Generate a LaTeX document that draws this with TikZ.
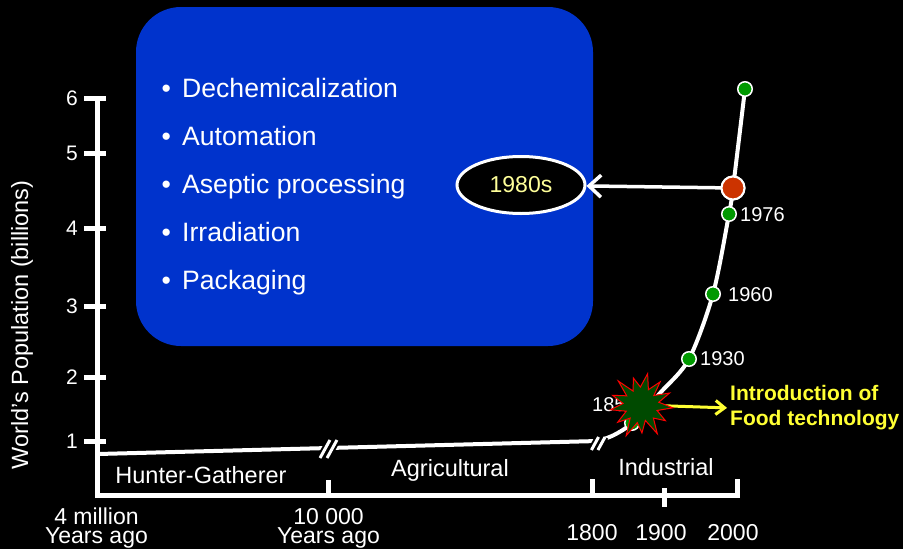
\documentclass[tikz,border=0pt]{standalone}
\usepackage{fontspec}
\setmainfont{Liberation Sans}
\usetikzlibrary{arrows.meta,shapes.geometric}
\definecolor{boxblue}{HTML}{0033CC}
\definecolor{dotgreen}{HTML}{009900}
\definecolor{dotred}{HTML}{CC3300}
\definecolor{stargreen}{HTML}{004A00}
\definecolor{paleyellow}{HTML}{FFFF99}
\definecolor{brightyellow}{HTML}{FFFF33}
\tikzset{
  axisline/.style={white, line width=5pt, line join=miter},
  tickmark/.style={white, line width=5pt},
  curveline/.style={white, line width=4pt},
  breakback/.style={black, line width=7pt},
  breakfront/.style={white, line width=3pt},
  bullettext/.style={text=white, font=\fontsize{26.6}{32}\selectfont, anchor=base west, inner sep=0pt},
  ticklabel/.style={text=white, font=\fontsize{21}{25}\selectfont, anchor=base east, inner sep=0pt},
  eralabel/.style={text=white, font=\fontsize{23.5}{28}\selectfont, anchor=base, inner sep=0pt},
  yearlabel/.style={text=white, font=\fontsize{23}{27}\selectfont, anchor=base, inner sep=0pt},
  twoline/.style={text=white, font={\fontsize{23}{19}\selectfont\lineskiplimit=-30pt\lineskip=0pt}, align=center, anchor=base, inner sep=0pt},
  dotlabel/.style={text=white, font=\fontsize{20}{24}\selectfont, anchor=west, inner sep=0pt},
  greendot/.style={circle, fill=dotgreen, draw=white, line width=1.5pt, minimum size=14.5pt, inner sep=0pt},
  reddot/.style={circle, fill=dotred, draw=white, line width=2pt, minimum size=23pt, inner sep=0pt},
  whitearrow/.style={white, line width=3.5pt, -{Straight Barb[length=12pt,width=22pt]}},
  yellowarrow/.style={brightyellow, line width=3pt, -{Straight Barb[length=9pt,width=14pt]}, shorten >=3pt},
  starshape/.style={fill=stargreen, draw=red, line width=1pt, line join=miter},
}
\begin{document}
\begin{tikzpicture}[x=1pt,y=-1pt]
\useasboundingbox (0,0) rectangle (903,549);
\fill[black] (0,0) rectangle (903,549);

% blue box with bullets
\node[fill=boxblue, rounded corners=45pt, minimum width=457pt, minimum height=339pt, inner sep=0pt] (box) at (364.5,176.5) {};
\foreach \t [count=\i] in {Dechemicalization, Automation, Aseptic processing, Irradiation, Packaging}
  \node[bullettext] (bl\i) at (161.5,{97+48*(\i-1)}) {\makebox[20.5pt][l]{•}\t};

% axes
\coordinate (ytop) at (97,96);
\coordinate (origin) at (97,495);
\coordinate (xend) at (740,495);
\draw[axisline] (ytop) -- (origin) -- (xend);
\foreach \v/\yy in {6/98,5/153,4/228,3/306,2/377,1/441}{
  \draw[tickmark] (84,\yy) -- (106,\yy);
  \node[ticklabel] (yl\v) at (78,\yy+7.5) {\v};
}
\draw[tickmark] (328,480) -- (328,497);
\draw[tickmark] (592,479) -- (592,497);
\draw[tickmark] (664,488) -- (664,507);
\draw[tickmark] (737,479) -- (737,497);

\node[rotate=90, text=white, font=\fontsize{23.5}{28}\selectfont, inner sep=0pt] (ylab) at (22,325) {World's Population (billions)};

\node[twoline] (x4) at (96.5,543) {4 million\\Years ago};
\node[twoline] (x10) at (328.5,543) {10 000\\Years ago};
\node[yearlabel] (x1800) at (592,540) {1800};
\node[yearlabel] (x1900) at (661,540) {1900};
\node[yearlabel] (x2000) at (733,540) {2000};

\node[eralabel] (era1) at (201,483) {Hunter-Gatherer};
\node[eralabel] (era2) at (450,476) {Agricultural};
\node[eralabel] (era3) at (666,475) {Industrial};

% population curve
\coordinate (c0) at (98,454);
\coordinate (b1) at (328,448);
\coordinate (b2) at (598,441);
\coordinate (c1850) at (632,423);
\coordinate (c1930) at (689,359);
\coordinate (c1960) at (713,294);
\coordinate (c1976) at (729,214);
\coordinate (cred) at (733,188);
\coordinate (ctop) at (745,89);
\draw[curveline] (c0) -- (b2);
\draw[curveline] plot[smooth, tension=0.5] coordinates {(b2) (614,435) (c1850) (661,392) (c1930) (c1960) (c1976) (cred) (ctop)};

% break marks
\foreach \cx/\cy/\h in {325/449/9, 332/449/9, 595/443.5/6.5, 601.5/443.5/6.5}{
  \draw[breakback] ({\cx-\h*0.55},{\cy+\h}) -- ({\cx+\h*0.55},{\cy-\h});
}
\foreach \cx/\cy/\h in {325/449/9, 332/449/9, 595/443.5/6.5, 601.5/443.5/6.5}{
  \draw[breakfront] ({\cx-\h*0.55},{\cy+\h}) -- ({\cx+\h*0.55},{\cy-\h});
}

% dots and labels
\node[greendot] (d1850) at (c1850) {};
\node[greendot] (d1930) at (c1930) {};
\node[greendot] (d1960) at (c1960) {};
\node[greendot] (d1976) at (c1976) {};
\node[greendot] (dtop) at (ctop) {};
\node[dotlabel] (l1850) at (592,405) {1850};
\node[dotlabel] (l1930) at (700,359) {1930};
\node[dotlabel] (l1960) at (728,295) {1960};
\node[dotlabel] (l1976) at (740,215) {1976};

% 1980s ellipse and arrow
\node[ellipse, draw=white, line width=3pt, fill=black, minimum width=128pt, minimum height=57pt, inner sep=0pt, text=paleyellow, font=\fontsize{23}{27}\selectfont] (e80) at (521,185) {1980s};
\node[reddot] (dred) at (cred) {};
\draw[whitearrow] (dred.center) -- (e80);
\node[reddot] (dred2) at (cred) {};

% food technology
\coordinate (star) at (641,405);
\node[text=brightyellow, font=\bfseries\fontsize{21}{25}\selectfont, align=left, anchor=west, inner sep=0pt] (intro) at (730,408) {Introduction of\\Food technology};
\draw[yellowarrow] (star) -- (intro.west);
\filldraw[starshape, shift={(star)}]
  (5:32) \foreach \r [count=\i] in {17,29,18,33,16,28,18,34,17,29,16,31,18,30,17,33,16,28,18,32,17,30,16,31,18} { -- ({5+\i*360/26}:\r) } -- cycle;
\end{tikzpicture}
\end{document}
